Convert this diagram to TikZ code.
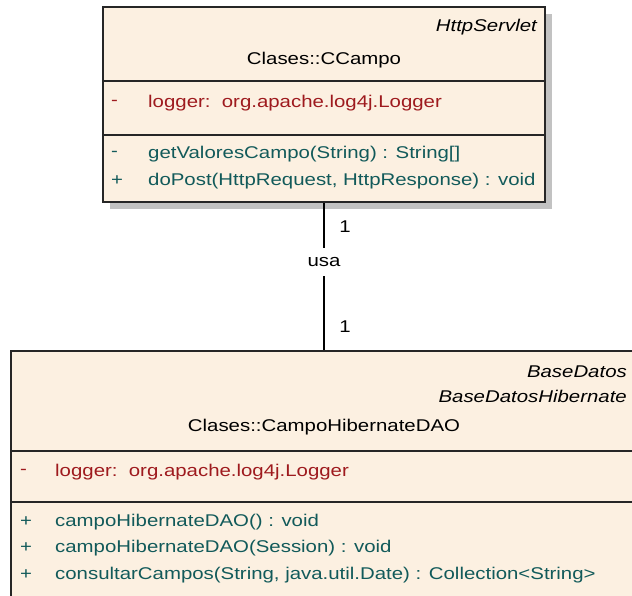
\documentclass[tikz,border=0pt]{standalone}
\usepackage{fontspec}
\setmainfont[FakeStretch=1.2]{Liberation Sans}
\definecolor{boxfill}{HTML}{FCF0E1}
\definecolor{attrred}{HTML}{9E1A1E}
\definecolor{methteal}{HTML}{125A5A}
\definecolor{shadowgray}{HTML}{C2C2C2}
\begin{document}
\begin{tikzpicture}[x=1pt,y=-1pt,
  umlbox/.style={draw=black!85,fill=boxfill,line width=1.7pt,inner sep=0pt},
  divider/.style={draw=black!85,line width=1.3pt},
  txt/.style={font=\fontsize{17}{20}\selectfont,inner sep=0pt},
  lefttxt/.style={txt,anchor=west},
  attr/.style={lefttxt,text=attrred},
  meth/.style={lefttxt,text=methteal},
  stereo/.style={txt,anchor=east,font=\fontsize{17}{20}\selectfont\itshape},
  assoc/.style={draw=black,line width=1.5pt}]
\useasboundingbox (0,0) rectangle (632,595);
\clip (0,0) rectangle (632,595);
\fill[white] (0,0) rectangle (632,595);

% class CCampo
\fill[shadowgray] (110,14) rectangle (552,209);
\node[umlbox,minimum width=442pt,minimum height=195pt] (ccampo) at (324,104.5) {};
\draw[divider] (103,81) -- (545,81);
\draw[divider] (103,135) -- (545,135);
\node[stereo] (ccst) at (537,27) {HttpServlet};
\node[txt] (ccname) at (324,60) {Clases::CCampo};
\node[attr] (ccav) at (111,103) {-};
\node[attr] (cca) at (148,103) {logger:\ \ org.apache.log4j.Logger};
\node[meth] (ccm1v) at (111,154) {-};
\node[meth] (ccm1) at (148,154) {getValoresCampo(String) : String[]};
\node[meth] (ccm2v) at (111,181) {+};
\node[meth] (ccm2) at (148,181) {doPost(HttpRequest, HttpResponse) : void};

% class CampoHibernateDAO
\node[umlbox,minimum width=640pt,minimum height=280pt] (dao) at (331,491) {};
\draw[divider] (11,451) -- (651,451);
\draw[divider] (11,502) -- (651,502);
\node[stereo] (daost1) at (627,372) {BaseDatos};
\node[stereo] (daost2) at (627,396) {BaseDatosHibernate};
\node[txt] (daoname) at (324,427) {Clases::CampoHibernateDAO};
\node[attr] (daoav) at (20,472) {-};
\node[attr] (daoa) at (55,472) {logger:\ \ org.apache.log4j.Logger};
\node[meth] (daom1v) at (20,522) {+};
\node[meth] (daom1) at (55,522) {campoHibernateDAO() : void};
\node[meth] (daom2v) at (20,548) {+};
\node[meth] (daom2) at (55,548) {campoHibernateDAO(Session) : void};
\node[meth] (daom3v) at (20,575) {+};
\node[meth] (daom3) at (55,575) {consultarCampos(String, java.util.Date) : Collection<String>};

% association
\node[txt,minimum height=28pt] (usa) at (324,262) {usa};
\draw[assoc] (ccampo.south) -- (usa.north);
\draw[assoc] (usa.south) -- (usa.south |- dao.north);
\node[txt] (m1) at (345,227) {1};
\node[txt] (m2) at (345,327) {1};
\end{tikzpicture}
\end{document}
